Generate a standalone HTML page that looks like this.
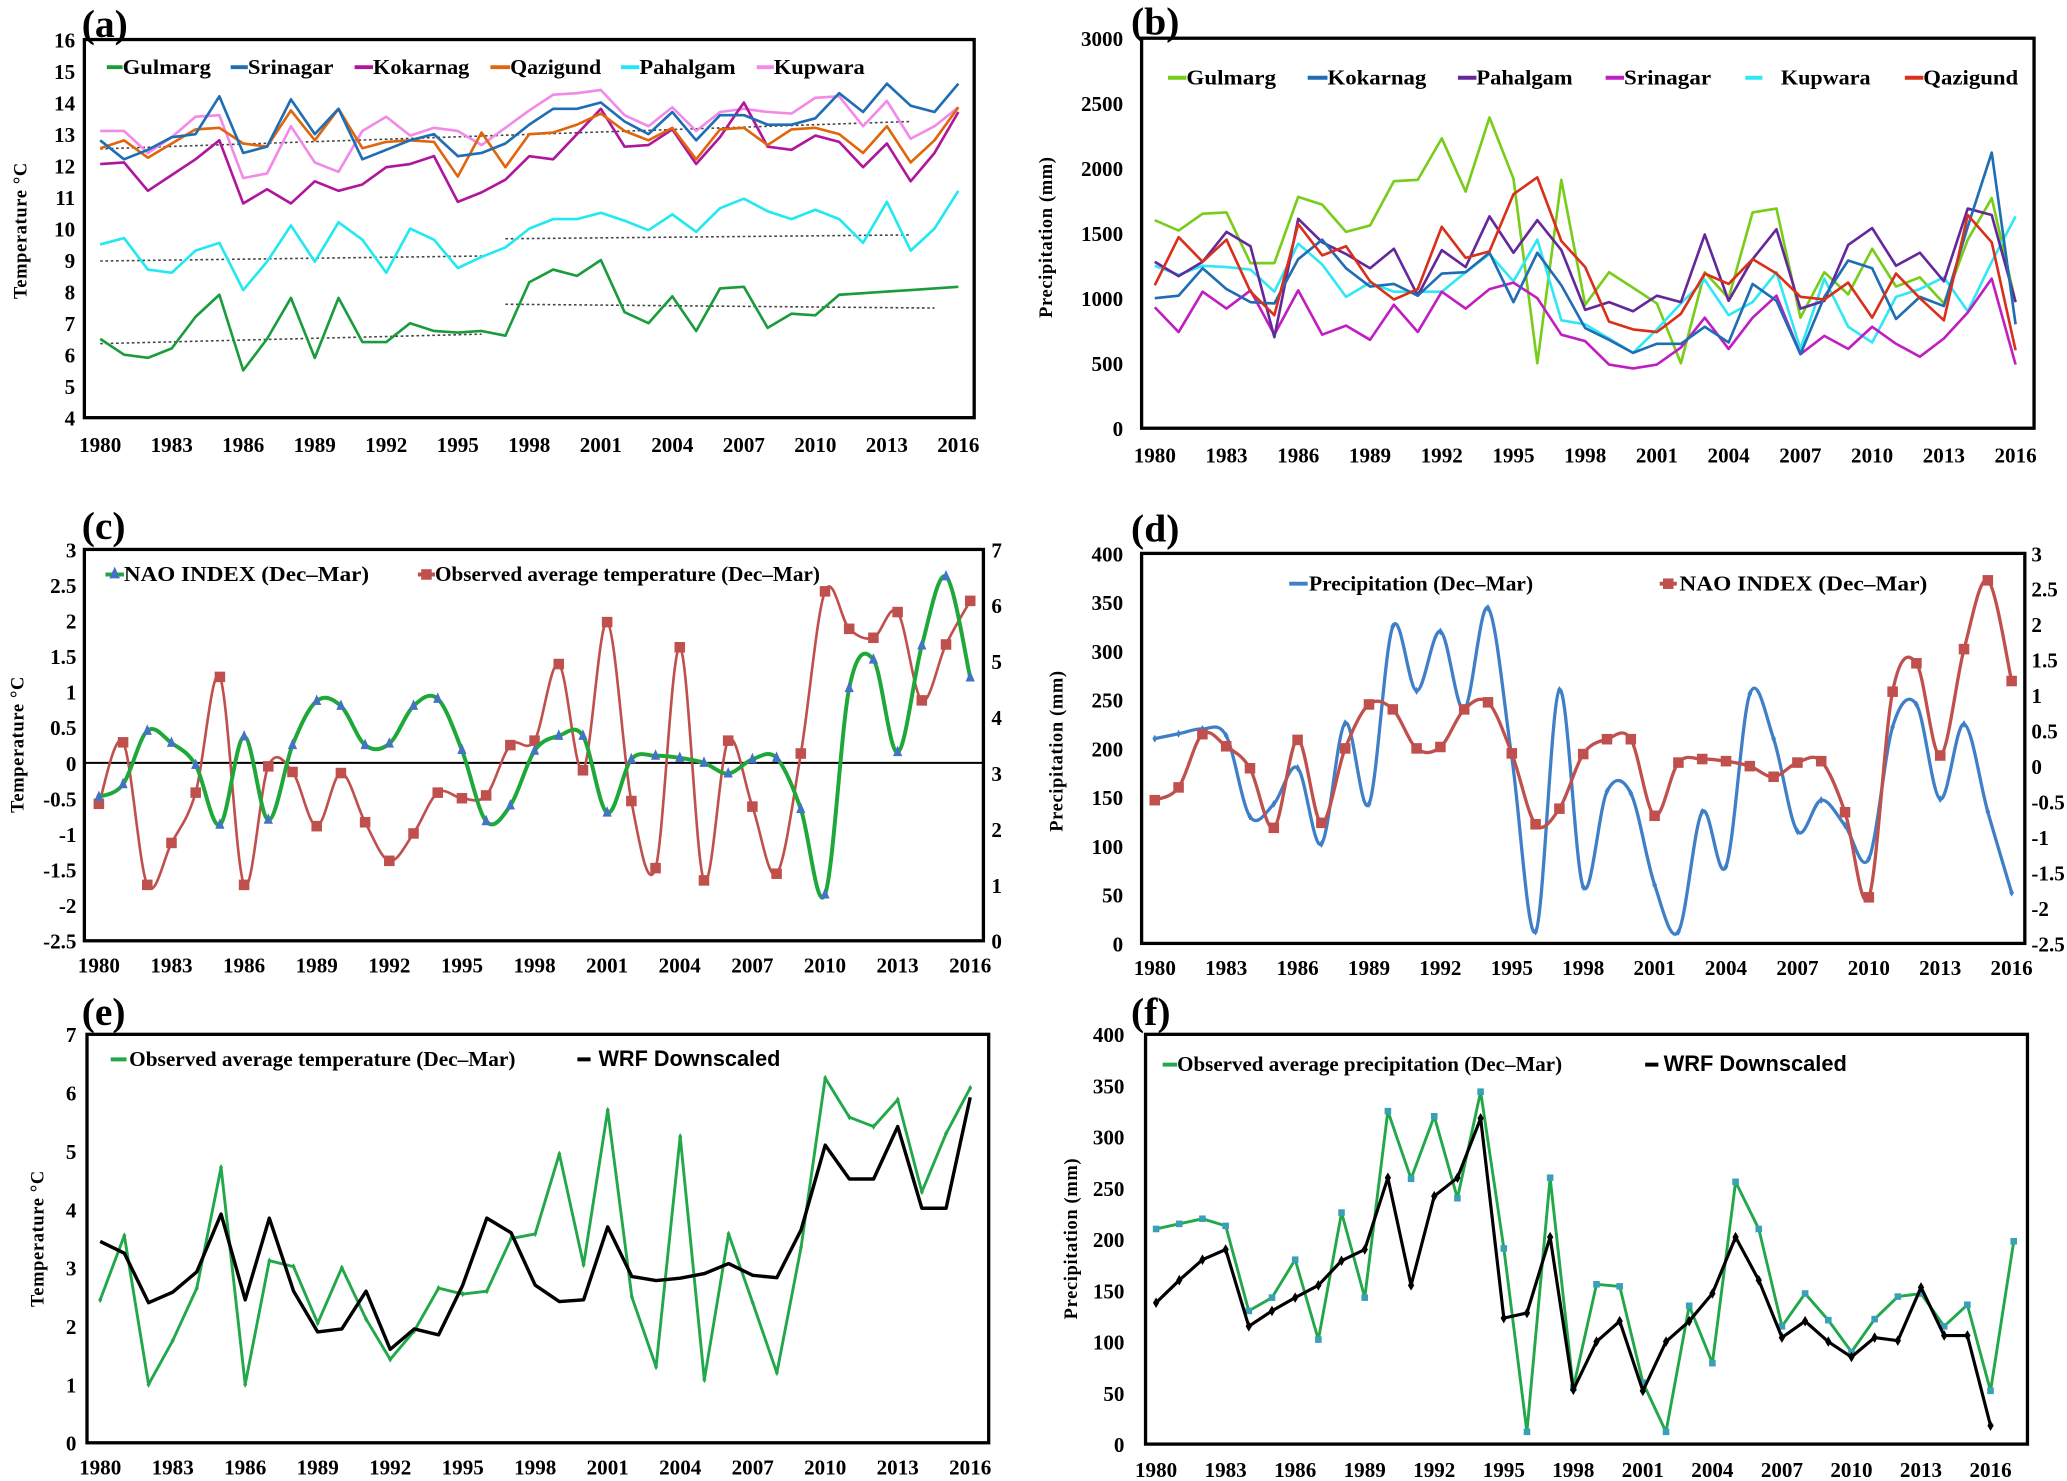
<!DOCTYPE html>
<html><head><meta charset="utf-8"><title>Climate panels</title>
<style>
html,body{margin:0;padding:0;background:#fff;}
svg{display:block;}
.tk{font-family:"Liberation Serif",serif;font-weight:bold;font-size:16px;fill:#000;}
.lg{font-family:"Liberation Serif",serif;font-weight:bold;font-size:16px;fill:#000;}
.pl{font-family:"Liberation Serif",serif;font-weight:bold;font-size:30px;fill:#000;}
.at{font-family:"Liberation Serif",serif;font-weight:bold;font-size:14px;fill:#000;letter-spacing:0.5px;}
.sb{font-family:"Liberation Sans",sans-serif;font-weight:bold;font-size:17px;fill:#000;}
</style></head>
<body>
<svg id="chart" xmlns="http://www.w3.org/2000/svg" width="2067" height="1481" viewBox="0 0 1568 1124" preserveAspectRatio="none"></svg>
<script>
// ---------- data ----------
const years=[1980,1981,1982,1983,1984,1985,1986,1987,1988,1989,1990,1991,1992,1993,1994,1995,1996,1997,1998,1999,2000,2001,2002,2003,2004,2005,2006,2007,2008,2009,2010,2011,2012,2013,2014,2015,2016];
const yearsF=[1980,1981,1982,1983,1984,1985,1986,1987,1988,1989,1990,1991,1992,1993,1994,1995,1996,1997,1998,1999,2000,2001,2002,2003,2004,2005,2006,2007,2008,2009,2010,2011,2012,2013,2014,2015,2016,2017];
const xTickLabels=['1980','1983','1986','1989','1992','1995','1998','2001','2004','2007','2010','2013','2016'];
// (a) temperature
const aGulmarg=[6.5,6.0,5.9,6.2,7.2,7.9,5.5,6.5,7.8,5.9,7.8,6.4,6.4,7.0,6.75,6.7,6.75,6.6,8.3,8.7,8.5,9.0,7.35,7.0,7.85,6.75,8.1,8.15,6.85,7.3,7.25,7.9,7.95,8.0,8.05,8.1,8.15];
const aSrinagar=[12.8,12.2,12.5,12.9,13.0,14.2,12.4,12.6,14.1,13.0,13.8,12.2,12.5,12.8,13.0,12.3,12.4,12.7,13.3,13.8,13.8,14.0,13.4,13.0,13.7,12.8,13.6,13.6,13.3,13.3,13.5,14.3,13.7,14.6,13.9,13.7,14.6];
const aKokarnag=[12.05,12.1,11.2,11.7,12.2,12.8,10.8,11.25,10.8,11.5,11.2,11.4,11.95,12.05,12.3,10.85,11.15,11.55,12.3,12.2,13.0,13.8,12.6,12.65,13.15,12.05,12.9,14.0,12.6,12.5,12.95,12.75,11.95,12.7,11.5,12.4,13.7];
const aQazigund=[12.55,12.8,12.25,12.7,13.15,13.2,12.7,12.6,13.75,12.8,13.8,12.55,12.75,12.8,12.75,11.65,13.05,11.95,13.0,13.05,13.3,13.65,13.1,12.8,13.2,12.2,13.15,13.2,12.65,13.15,13.2,13.0,12.4,13.25,12.1,12.8,13.85];
const aPahalgam=[9.5,9.7,8.7,8.6,9.3,9.55,8.05,8.95,10.1,8.95,10.2,9.65,8.6,10.0,9.65,8.75,9.1,9.4,10.0,10.3,10.3,10.5,10.25,9.95,10.45,9.9,10.65,10.95,10.55,10.3,10.6,10.3,9.55,10.85,9.3,10.0,11.2];
const aKupwara=[13.1,13.1,12.4,12.9,13.55,13.6,11.6,11.75,13.25,12.1,11.8,13.1,13.55,12.95,13.2,13.1,12.65,13.2,13.75,14.25,14.3,14.4,13.6,13.25,13.85,13.1,13.7,13.8,13.7,13.65,14.15,14.2,13.25,14.05,12.85,13.25,13.85];
const aTrendYears=[[1980,2014],[1980,1996],[1997,2014],[1980,1996],[1997,2015]];
const aTrendVals=[[12.53,13.4],[8.97,9.13],[9.68,9.8],[6.35,6.65],[7.6,7.48]];
// (b) precipitation
const bGulmarg=[1600,1520,1650,1660,1270,1270,1780,1720,1510,1560,1900,1910,2230,1820,2390,1920,500,1910,950,1200,1080,960,500,1200,1000,1660,1690,850,1200,1030,1380,1090,1160,960,1450,1770,970];
const bKokarnag=[1000,1020,1230,1070,970,960,1300,1450,1230,1090,1110,1020,1190,1200,1350,970,1350,1100,770,680,580,650,650,780,660,1110,980,570,1010,1290,1230,840,1010,940,1550,2120,800];
const bPahalgam=[1280,1170,1280,1510,1400,700,1610,1430,1340,1230,1380,1020,1370,1240,1630,1350,1600,1370,910,970,900,1020,970,1490,980,1300,1530,920,980,1410,1540,1250,1350,1130,1690,1640,970];
const bSrinagar=[930,740,1050,920,1060,720,1060,720,790,680,950,740,1050,920,1070,1120,1000,720,670,490,460,490,620,850,610,850,1020,570,710,610,780,650,550,690,890,1150,490];
const bKupwara=[1250,1180,1250,1240,1220,1050,1420,1260,1010,1120,1050,1050,1050,1200,1340,1130,1450,830,800,690,580,760,960,1140,870,970,1200,610,1150,780,660,1010,1070,1160,900,1280,1630];
const bQazigund=[1100,1470,1280,1450,1050,870,1570,1330,1400,1130,990,1070,1550,1310,1360,1800,1930,1440,1240,820,760,740,880,1190,1110,1300,1190,1010,990,1120,850,1190,1000,830,1640,1430,600];
// (c)/(d) NAO index and observed temperature
const naoIndex=[-0.48,-0.3,0.45,0.28,-0.03,-0.87,0.37,-0.8,0.25,0.87,0.8,0.25,0.27,0.8,0.9,0.18,-0.82,-0.6,0.17,0.38,0.38,-0.7,0.05,0.1,0.07,0.0,-0.15,0.05,0.07,-0.65,-1.85,1.05,1.45,0.15,1.65,2.62,1.2];
const obsTemp=[2.45,3.55,1.0,1.75,2.65,4.72,1.0,3.12,3.02,2.05,3.0,2.12,1.43,1.92,2.65,2.55,2.6,3.5,3.58,4.95,3.05,5.7,2.5,1.3,5.25,1.08,3.58,2.4,1.2,3.35,6.25,5.58,5.42,5.88,4.3,5.3,6.08];
// (d) precipitation
const dPrecip=[210,215,220,213,130,143,180,102,226,143,325,259,320,240,344,191,12,260,58,156,154,60,12,135,79,256,210,115,147,121,87,222,245,148,225,135,52];
// (e) WRF temperature
const eWrf=[3.45,3.25,2.4,2.58,2.93,3.92,2.45,3.85,2.6,1.9,1.95,2.6,1.6,1.95,1.85,2.7,3.85,3.6,2.7,2.42,2.45,3.7,2.85,2.78,2.82,2.9,3.07,2.87,2.83,3.65,5.1,4.52,4.52,5.42,4.02,4.02,5.92];
// (f) precipitation observed / WRF
const fObs=[210,215,220,213,130,143,180,102,226,143,325,259,320,240,344,191,12,260,55,156,154,60,12,135,79,256,210,115,147,121,90,122,144,147,115,136,52,198];
const fWrf=[138,160,180,190,115,130,143,155,179,190,260,155,242,260,318,123,128,202,53,100,120,52,100,120,147,202,160,104,120,100,85,104,101,153,106,106,18];
// tick arrays
const aYTicks=[4,5,6,7,8,9,10,11,12,13,14,15,16];
const bYTicks=[0,500,1000,1500,2000,2500,3000];
const cYTicks=[-2.5,-2,-1.5,-1,-0.5,0,0.5,1,1.5,2,2.5,3];
const cY2Ticks=[0,1,2,3,4,5,6,7];
const dYTicks=[0,50,100,150,200,250,300,350,400];
const dY2Ticks=[-2.5,-2,-1.5,-1,-0.5,0,0.5,1,1.5,2,2.5,3];
const eYTicks=[0,1,2,3,4,5,6,7];
const fYTicks=[0,50,100,150,200,250,300,350,400];

// ---------- helpers ----------
const NS='http://www.w3.org/2000/svg';
const svg=document.getElementById('chart');
function mk(tag,attrs,parent){const e=document.createElementNS(NS,tag);for(const k in attrs)e.setAttribute(k,attrs[k]);(parent||svg).appendChild(e);return e;}
function lin(d0,d1,r0,r1){return v=>r0+(v-d0)*(r1-r0)/(d1-d0);}
function linePath(xs,ys){return xs.map((x,i)=>(i?'L':'M')+x.toFixed(1)+','+ys[i].toFixed(1)).join('');}
function smoothPath(xs,ys){
  let d='M'+xs[0].toFixed(1)+','+ys[0].toFixed(1);
  for(let i=0;i<xs.length-1;i++){
    const x0=xs[Math.max(0,i-1)],y0=ys[Math.max(0,i-1)],x1=xs[i],y1=ys[i],x2=xs[i+1],y2=ys[i+1],x3=xs[Math.min(xs.length-1,i+2)],y3=ys[Math.min(xs.length-1,i+2)];
    d+='C'+(x1+(x2-x0)/6).toFixed(1)+','+(y1+(y2-y0)/6).toFixed(1)+' '+(x2-(x3-x1)/6).toFixed(1)+','+(y2-(y3-y1)/6).toFixed(1)+' '+x2.toFixed(1)+','+y2.toFixed(1);
  }
  return d;
}
function panel(name,P){
  const g=mk('g',{});
  
  
  const r=mk('rect',{x:P.x0,y:P.y0,width:P.x1-P.x0,height:P.y1-P.y0,fill:'none',stroke:'#000','stroke-width':2.5},g);
  
  
  const l=mk('text',{x:P.lx,y:P.ly,class:'pl'},g);
  l.textContent=P.label;
  
  
  return g;
}
function xAxis(g,sx,y){
  const ga=mk('g',{},g);
  
  
  xTickLabels.forEach(s=>{
    const t=mk('text',{x:sx(+s),y:y,class:'tk','text-anchor':'middle'},ga);
    t.textContent=s;
    
    
  });
}
function yAxis(g,sy,ticks,x,anchor){
  const ga=mk('g',{},g);
  
  
  ticks.forEach(v=>{
    const t=mk('text',{x:x,y:sy(v)+6,class:'tk','text-anchor':anchor},ga);
    t.textContent=String(v);
    
    
  });
}
function axisTitle(g,s,x,y){
  const t=mk('text',{x:x,y:y,class:'at','text-anchor':'middle',transform:'rotate(-90 '+x+' '+y+')'},g);
  t.textContent=s;
  
  
}
function series(g,name,xsD,ysD,sx,sy,color,w,smooth){
  const xs=xsD.map(sx),ys=ysD.map(sy);
  const p=mk('path',{d:smooth?smoothPath(xs,ys):linePath(xs,ys),fill:'none',stroke:color,'stroke-width':w,'stroke-linejoin':'round'},g);
  
  
  return {xs,ys};
}
function markers(g,pts,shape,color,s){
  pts.xs.forEach((x,i)=>{
    const y=pts.ys[i];let m;
    if(shape==='sq')m=mk('rect',{x:x-s/2,y:y-s/2,width:s,height:s,fill:color},g);
    else if(shape==='tri')m=mk('path',{d:`M${x},${y-s}L${x+s*0.7},${y+s*0.6}L${x-s*0.7},${y+s*0.6}Z`,fill:color},g);
    else m=mk('path',{d:`M${x},${y-s}L${x+s*0.6},${y}L${x},${y+s}L${x-s*0.6},${y}Z`,fill:color},g);
    
    
  });
}
function legend(g,text,lx0,lx1,tx,tw,y,color,cls,mshape){
  const e=mk('g',{},g);
  
  
  mk('line',{x1:lx0,x2:lx1,y1:y-5,y2:y-5,stroke:color,'stroke-width':3},e);
  if(mshape==='sq')mk('rect',{x:(lx0+lx1)/2-4,y:y-9,width:8,height:8,fill:color},e);
  if(mshape==='tri')mk('path',{d:`M${(lx0+lx1)/2},${y-11}L${(lx0+lx1)/2+4},${y-2}L${(lx0+lx1)/2-4},${y-2}Z`,fill:'#4472c4'},e);
  const t=mk('text',{x:tx,y:y,class:cls||'lg',textLength:tw,lengthAdjust:'spacingAndGlyphs'},e);
  t.textContent=text;
}

// ---------- (a) ----------
(function(){
  const P={x0:64,x1:739,y0:30,y1:317,label:'(a)',lx:62,ly:28};
  const g=panel('panel-a-temperature',P);
  const sx=lin(1980,2016,76,727),sy=lin(4,16,317,30);
  xAxis(g,sx,343);yAxis(g,sy,aYTicks,57,'end');
  axisTitle(g,'Temperature °C',20,175);
  aTrendYears.forEach((yy,i)=>{
    const p=mk('path',{d:linePath(yy.map(sx),aTrendVals[i].map(sy)),stroke:'#444','stroke-width':1.2,'stroke-dasharray':'2,2',fill:'none'},g);
    
    
  });
  series(g,'line-pahalgam',years,aPahalgam,sx,sy,'#22e8f2',2);
  series(g,'line-gulmarg',years,aGulmarg,sx,sy,'#1a9c3c',2);
  series(g,'line-kupwara',years,aKupwara,sx,sy,'#f28ae8',2);
  series(g,'line-kokarnag',years,aKokarnag,sx,sy,'#b0169c',2);
  series(g,'line-qazigund',years,aQazigund,sx,sy,'#e0660e',2);
  series(g,'line-srinagar',years,aSrinagar,sx,sy,'#1f6db3',2);
  legend(g,'Gulmarg',81,93,93,67,56,'#1a9c3c');
  legend(g,'Srinagar',175,188,188,65,56,'#1f6db3');
  legend(g,'Kokarnag',269,283,283,73,56,'#b0169c');
  legend(g,'Qazigund',372,387,387,69,56,'#e0660e');
  legend(g,'Pahalgam',471,485,485,73,56,'#22e8f2');
  legend(g,'Kupwara',574,587,587,69,56,'#f28ae8');
})();

// ---------- (b) ----------
(function(){
  const P={x0:866,x1:1543,y0:29,y1:325,label:'(b)',lx:858,ly:26};
  const g=panel('panel-b-precipitation',P);
  const sx=lin(1980,2016,876,1529),sy=lin(0,3000,325,29);
  xAxis(g,sx,351);yAxis(g,sy,bYTicks,852,'end');
  axisTitle(g,'Precipitation (mm)',798,180);
  series(g,'line-gulmarg',years,bGulmarg,sx,sy,'#78cc1a',2);
  series(g,'line-kupwara',years,bKupwara,sx,sy,'#30e8f5',2);
  series(g,'line-srinagar',years,bSrinagar,sx,sy,'#c01ec0',2);
  series(g,'line-pahalgam',years,bPahalgam,sx,sy,'#65289a',2);
  series(g,'line-kokarnag',years,bKokarnag,sx,sy,'#1f6db3',2);
  series(g,'line-qazigund',years,bQazigund,sx,sy,'#d8301a',2);
  legend(g,'Gulmarg',886,900,900,68,64,'#78cc1a');
  legend(g,'Kokarnag',992,1007,1007,75,64,'#1f6db3');
  legend(g,'Pahalgam',1106,1120,1120,73,64,'#65289a');
  legend(g,'Srinagar',1218,1232,1232,66,64,'#c01ec0');
  legend(g,'Kupwara',1324,1337,1351,68,64,'#30e8f5');
  legend(g,'Qazigund',1445,1459,1459,72,64,'#d8301a');
})();

// ---------- (c) ----------
(function(){
  const P={x0:64,x1:746,y0:417,y1:714,label:'(c)',lx:62,ly:409};
  const g=panel('panel-c-nao-temperature',P);
  const sx=lin(1980,2016,75,736),sy=lin(-2.5,3,714,417),sy2=lin(0,7,714,417);
  xAxis(g,sx,738);yAxis(g,sy,cYTicks,58,'end');yAxis(g,sy2,cY2Ticks,752,'start');
  axisTitle(g,'Temperature °C',18,565);
  const z=mk('line',{x1:P.x0,x2:P.x1,y1:sy(0),y2:sy(0),stroke:'#000','stroke-width':1.5},g);
  
  
  const r=series(g,'line-observed-temperature',years,obsTemp,sx,sy2,'#c0504d',2,true);
  markers(g,r,'sq','#c0504d',8);
  const n=series(g,'line-nao-index',years,naoIndex,sx,sy,'#1fa83a',3,true);
  markers(g,n,'tri','#4472c4',5);
  legend(g,'NAO INDEX  (Dec–Mar)',80,94,94,186,441,'#1fa83a','lg','tri');
  legend(g,'Observed average temperature (Dec–Mar)',317,330,330,292,441,'#c0504d','lg','sq');
})();

// ---------- (d) ----------
(function(){
  const P={x0:866,x1:1536,y0:420,y1:716,label:'(d)',lx:858,ly:411};
  const g=panel('panel-d-precip-nao',P);
  const sx=lin(1980,2016,876,1526),sy=lin(0,400,716,420),sy2=lin(-2.5,3,716,420);
  xAxis(g,sx,740);yAxis(g,sy,dYTicks,852,'end');yAxis(g,sy2,dY2Ticks,1541,'start');
  axisTitle(g,'Precipitation (mm)',806,570);
  const b=series(g,'line-precipitation',years,dPrecip,sx,sy,'#3f7fc7',2.5,true);
  markers(g,b,'dia','#3f7fc7',3);
  const n=series(g,'line-nao-index',years,naoIndex,sx,sy2,'#c0504d',2.5,true);
  markers(g,n,'sq','#c0504d',8);
  legend(g,'Precipitation (Dec–Mar)',978,992,993,170,448,'#3f7fc7');
  legend(g,'NAO INDEX  (Dec–Mar)',1259,1272,1274,188,448,'#c0504d','lg','sq');
})();

// ---------- (e) ----------
(function(){
  const P={x0:66,x1:750,y0:785,y1:1095,label:'(e)',lx:62,ly:778};
  const g=panel('panel-e-temperature-wrf',P);
  const sx=lin(1980,2016,76,736),sy=lin(0,7,1095,785);
  xAxis(g,sx,1119);yAxis(g,sy,eYTicks,58,'end');
  axisTitle(g,'Temperature °C',33,940);
  const o=series(g,'line-observed-temperature',years,obsTemp,sx,sy,'#22a84a',2.2);
  markers(g,o,'dia','#22a84a',2.5);
  series(g,'line-wrf-downscaled',years,eWrf,sx,sy,'#000',2.6);
  legend(g,'Observed average temperature (Dec–Mar)',84,96,98,293,809,'#22a84a');
  legend(g,'WRF Downscaled',438,448,454,138,809,'#000','sb');
})();

// ---------- (f) ----------
(function(){
  const P={x0:869,x1:1538,y0:785,y1:1096,label:'(f)',lx:858,ly:778};
  const g=panel('panel-f-precip-wrf',P);
  const sx=lin(1980,2016,877,1510),sy=lin(0,400,1096,785);
  xAxis(g,sx,1121);yAxis(g,sy,fYTicks,853,'end');
  axisTitle(g,'Precipitation (mm)',817,940);
  const o=series(g,'line-observed-precipitation',yearsF,fObs,sx,sy,'#22a84a',2.2);
  markers(g,o,'sq','#3aa0b8',5);
  const w=series(g,'line-wrf-downscaled',years,fWrf,sx,sy,'#000',2.4);
  markers(g,w,'dia','#000',4);
  legend(g,'Observed average precipitation (Dec–Mar)',882,893,893,292,813,'#22a84a');
  legend(g,'WRF Downscaled',1248,1258,1262,139,813,'#000','sb');
})();
</script>
</body></html>
